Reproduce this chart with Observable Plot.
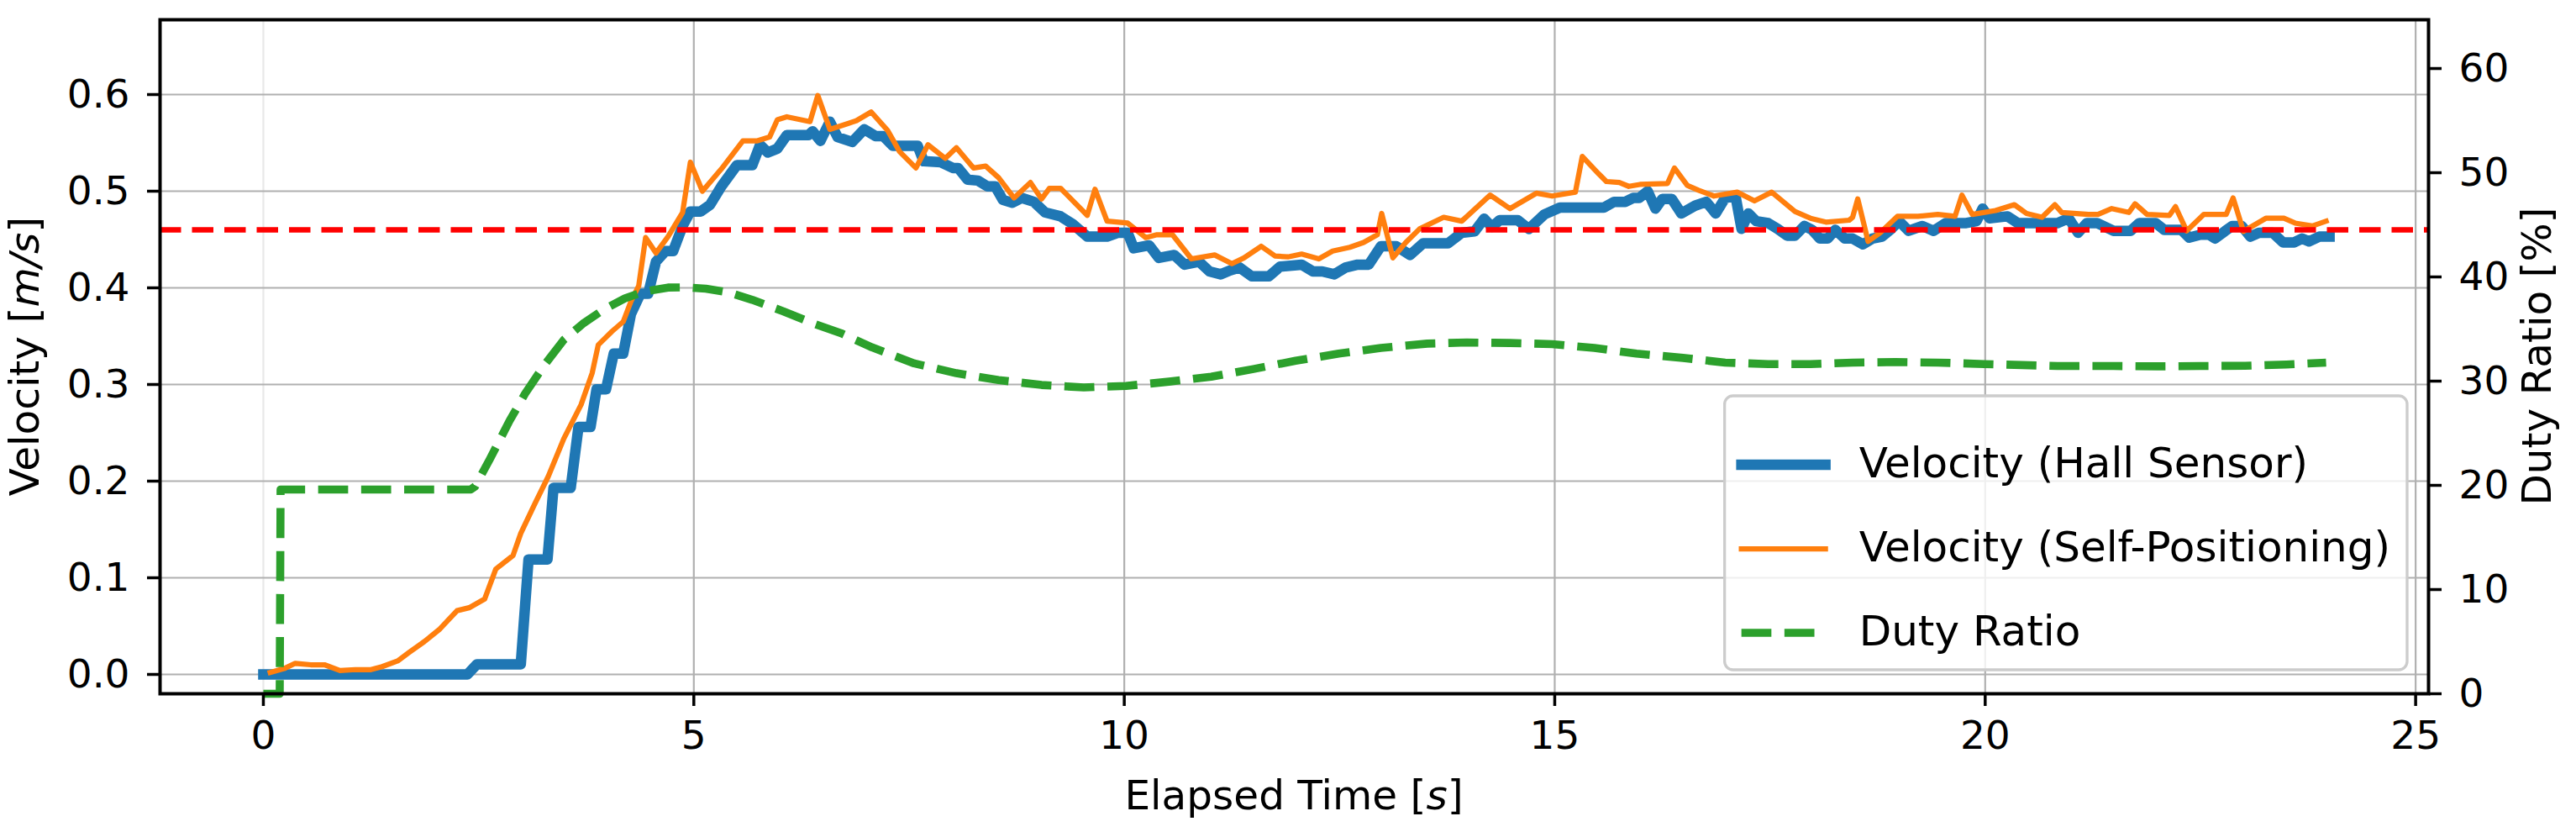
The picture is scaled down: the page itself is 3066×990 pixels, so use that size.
<!DOCTYPE html>
<html>
<head>
<meta charset="utf-8">
<script src="https://cdn.jsdelivr.net/npm/d3@7"></script>
<script src="https://cdn.jsdelivr.net/npm/@observablehq/plot@0.6"></script>
<style>
  html, body { margin: 0; padding: 0; background: #fff; }
  #chart { position: relative; width: 3066px; height: 990px; }
  #chart svg { font-family: "DejaVu Sans", sans-serif; }
</style>
</head>
<body>
<div id="chart"></div>
<script>
// ---------------- data ----------------
const hallT = [0, 2.37, 2.48, 2.99, 3.08, 3.30, 3.37, 3.57, 3.66, 3.80, 3.87, 3.98, 4.07, 4.18, 4.27, 4.38, 4.47, 4.56, 4.67, 4.76, 4.87, 4.96, 5.08, 5.19, 5.32, 5.50, 5.68, 5.77, 5.86, 5.97, 6.08, 6.33, 6.38, 6.47, 6.58, 6.67, 6.84, 6.98, 7.11, 7.20, 7.31, 7.60, 7.67, 7.87, 8.01, 8.07, 8.18, 8.30, 8.41, 8.50, 8.59, 8.70, 8.81, 8.95, 9.08, 9.26, 9.40, 9.57, 9.80, 9.93, 10.04, 10.11, 10.29, 10.40, 10.58, 10.70, 10.87, 10.99, 11.12, 11.23, 11.34, 11.48, 11.68, 11.81, 12.06, 12.19, 12.30, 12.44, 12.57, 12.71, 12.84, 12.98, 13.16, 13.32, 13.47, 13.76, 13.92, 14.07, 14.18, 14.27, 14.36, 14.57, 14.70, 14.88, 15.06, 15.57, 15.69, 15.82, 15.91, 15.98, 16.08, 16.17, 16.25, 16.36, 16.47, 16.63, 16.76, 16.87, 16.98, 17.10, 17.17, 17.25, 17.34, 17.48, 17.59, 17.70, 17.79, 17.90, 17.99, 18.08, 18.17, 18.26, 18.37, 18.46, 18.58, 18.69, 18.80, 18.91, 19.00, 19.11, 19.27, 19.40, 19.54, 19.78, 19.90, 19.97, 20.05, 20.26, 20.38, 20.84, 20.97, 21.08, 21.18, 21.30, 21.49, 21.69, 21.79, 21.98, 22.08, 22.28, 22.37, 22.50, 22.60, 22.67, 22.79, 22.87, 22.98, 23.08, 23.18, 23.34, 23.46, 23.59, 23.68, 23.76, 23.88, 24.00];
const hallV = [0, 0, 0.0105, 0.0105, 0.119, 0.119, 0.193, 0.193, 0.256, 0.256, 0.295, 0.295, 0.332, 0.332, 0.373, 0.394, 0.394, 0.427, 0.438, 0.438, 0.464, 0.479, 0.479, 0.486, 0.505, 0.527, 0.527, 0.548, 0.540, 0.544, 0.558, 0.558, 0.562, 0.552, 0.572, 0.556, 0.551, 0.564, 0.557, 0.557, 0.547, 0.547, 0.531, 0.530, 0.524, 0.524, 0.512, 0.511, 0.505, 0.505, 0.491, 0.488, 0.493, 0.489, 0.478, 0.474, 0.466, 0.453, 0.453, 0.457, 0.457, 0.441, 0.444, 0.431, 0.434, 0.424, 0.427, 0.417, 0.414, 0.418, 0.421, 0.412, 0.412, 0.422, 0.424, 0.417, 0.417, 0.414, 0.421, 0.424, 0.424, 0.443, 0.443, 0.434, 0.446, 0.446, 0.457, 0.4585, 0.4716, 0.463, 0.470, 0.470, 0.461, 0.476, 0.483, 0.483, 0.489, 0.489, 0.493, 0.493, 0.500, 0.482, 0.492, 0.492, 0.477, 0.485, 0.489, 0.477, 0.493, 0.495, 0.461, 0.477, 0.469, 0.467, 0.461, 0.454, 0.454, 0.464, 0.460, 0.451, 0.451, 0.460, 0.451, 0.451, 0.445, 0.451, 0.453, 0.461, 0.469, 0.459, 0.464, 0.459, 0.467, 0.467, 0.469, 0.482, 0.472, 0.474, 0.467, 0.467, 0.472, 0.457, 0.467, 0.467, 0.459, 0.459, 0.467, 0.467, 0.460, 0.460, 0.452, 0.455, 0.455, 0.451, 0.459, 0.464, 0.464, 0.453, 0.457, 0.457, 0.447, 0.447, 0.451, 0.448, 0.453, 0.453];

const selfT = [0.08, 0.24, 0.37, 0.55, 0.71, 0.89, 1.07, 1.25, 1.38, 1.56, 1.69, 1.87, 2.05, 2.25, 2.39, 2.57, 2.70, 2.90, 2.99, 3.15, 3.31, 3.49, 3.69, 3.82, 3.89, 4.05, 4.18, 4.27, 4.36, 4.44, 4.56, 4.70, 4.87, 4.96, 5.10, 5.32, 5.57, 5.73, 5.88, 5.97, 6.08, 6.35, 6.44, 6.58, 6.79, 6.89, 7.06, 7.25, 7.39, 7.58, 7.72, 7.92, 8.05, 8.25, 8.39, 8.54, 8.72, 8.91, 9.04, 9.13, 9.26, 9.57, 9.66, 9.80, 10.04, 10.25, 10.38, 10.56, 10.78, 11.05, 11.25, 11.39, 11.59, 11.75, 11.90, 12.06, 12.26, 12.42, 12.62, 12.78, 12.94, 12.99, 13.12, 13.27, 13.43, 13.71, 13.92, 14.25, 14.48, 14.79, 14.97, 15.24, 15.32, 15.51, 15.60, 15.75, 15.86, 15.99, 16.31, 16.39, 16.54, 16.67, 16.85, 17.12, 17.32, 17.52, 17.79, 17.97, 18.15, 18.42, 18.46, 18.52, 18.64, 18.78, 18.98, 19.22, 19.45, 19.65, 19.73, 19.85, 20.12, 20.34, 20.48, 20.66, 20.81, 20.89, 21.20, 21.31, 21.47, 21.67, 21.74, 21.88, 22.14, 22.21, 22.34, 22.54, 22.80, 22.88, 23.00, 23.26, 23.47, 23.60, 23.80, 23.96];
const selfV = [0.002, 0.006, 0.0115, 0.010, 0.010, 0.004, 0.005, 0.005, 0.008, 0.014, 0.0226, 0.034, 0.047, 0.066, 0.069, 0.078, 0.109, 0.123, 0.146, 0.176, 0.205, 0.244, 0.279, 0.312, 0.341, 0.355, 0.365, 0.386, 0.402, 0.452, 0.436, 0.453, 0.478, 0.530, 0.500, 0.523, 0.552, 0.552, 0.556, 0.574, 0.577, 0.572, 0.599, 0.564, 0.570, 0.573, 0.582, 0.563, 0.541, 0.524, 0.548, 0.534, 0.545, 0.524, 0.526, 0.514, 0.493, 0.509, 0.492, 0.503, 0.503, 0.475, 0.502, 0.469, 0.467, 0.452, 0.455, 0.455, 0.430, 0.434, 0.425, 0.431, 0.443, 0.433, 0.432, 0.435, 0.430, 0.438, 0.442, 0.447, 0.455, 0.477, 0.431, 0.447, 0.461, 0.473, 0.469, 0.496, 0.482, 0.498, 0.495, 0.499, 0.536, 0.518, 0.510, 0.509, 0.505, 0.507, 0.508, 0.524, 0.506, 0.501, 0.495, 0.499, 0.490, 0.499, 0.479, 0.472, 0.468, 0.470, 0.473, 0.492, 0.448, 0.457, 0.474, 0.474, 0.476, 0.474, 0.496, 0.476, 0.480, 0.486, 0.477, 0.473, 0.486, 0.478, 0.476, 0.476, 0.482, 0.478, 0.487, 0.476, 0.475, 0.484, 0.459, 0.476, 0.476, 0.493, 0.4585, 0.472, 0.472, 0.467, 0.464, 0.469];

const dutyT = [0, 0.19, 0.20, 2.41, 2.46, 2.63, 2.86, 3.04, 3.26, 3.49, 3.71, 3.94, 4.20, 4.43, 4.70, 4.92, 5.14, 5.41, 5.68, 6.04, 6.40, 6.71, 7.07, 7.56, 8.05, 8.54, 9.04, 9.53, 10.02, 10.52, 11.01, 11.50, 11.99, 12.49, 12.98, 13.52, 13.98, 14.48, 14.97, 15.46, 15.95, 16.49, 16.98, 17.48, 17.97, 18.46, 18.96, 19.45, 19.99, 20.43, 20.84, 21.49, 22.00, 22.50, 23.02, 23.50, 23.96];
const dutyD = [0, 0, 19.6, 19.6, 19.9, 22.5, 26.2, 28.8, 31.5, 33.96, 35.5, 36.8, 37.95, 38.6, 38.98, 39.0, 38.87, 38.5, 37.8, 36.7, 35.5, 34.6, 33.24, 31.7, 30.76, 30.1, 29.63, 29.4, 29.54, 29.95, 30.43, 31.16, 31.96, 32.64, 33.18, 33.6, 33.71, 33.66, 33.55, 33.18, 32.64, 32.23, 31.78, 31.64, 31.64, 31.78, 31.83, 31.78, 31.64, 31.54, 31.45, 31.45, 31.42, 31.45, 31.47, 31.6, 31.78];

const targetVelocity = [0.46];

const xTicks = [0, 5, 10, 15, 20, 25];
const velocityTicks = [0.0, 0.1, 0.2, 0.3, 0.4, 0.5, 0.6];
const dutyTicks = [0, 10, 20, 30, 40, 50, 60];

const seriesNames = ["Velocity (Hall Sensor)", "Velocity (Self-Positioning)", "Duty Ratio"];
const seriesColors = ["#1f77b4", "#ff7f0e", "#2ca02c"];

// ---------------- tables ----------------
const hall = hallT.map((t, i) => ({t, v: hallV[i]}));
const selfPos = selfT.map((t, i) => ({t, v: selfV[i]}));
const duty = dutyT.map((t, i) => ({t, d: dutyD[i]}));

// ---------------- layout ----------------
const W = 3066, H = 990;
const mL = 190, mR = 176, mT = 23, mB = 165;
const xDomain = [-1.2, 25.15];
const vDomain = [-0.020, 0.6774];
const dDomain = [0, 64.68];
const dutyToV = d3.scaleLinear().domain(dDomain).range(vDomain);

const TICK_FS = 47, LABEL_FS = 48.5, LEG_FS = 50;
const tickStyle = {tickSize: 15, strokeWidth: 3.5, fontSize: TICK_FS, label: null, stroke: "black", color: "black"};

const plot = Plot.plot({
  width: W, height: H,
  marginLeft: mL, marginRight: mR, marginTop: mT, marginBottom: mB,
  style: {fontFamily: "DejaVu Sans", fontSize: TICK_FS + "px", color: "black", background: "white"},
  x: {domain: xDomain, label: null},
  y: {domain: vDomain, label: null},
  marks: [
    Plot.gridX(xTicks, {stroke: t => t === 0 ? "#e8e8e8" : "#b0b0b0", strokeOpacity: 1, strokeWidth: 2.2}),
    Plot.gridY(velocityTicks, {stroke: "#b0b0b0", strokeOpacity: 1, strokeWidth: 2.2}),
    Plot.line(hall, {x: "t", y: "v", stroke: seriesColors[0], strokeWidth: 12.5, strokeLinejoin: "round", strokeLinecap: "square"}),
    Plot.line(selfPos, {x: "t", y: "v", stroke: seriesColors[1], strokeWidth: 6.25, strokeLinejoin: "round", strokeLinecap: "square"}),
    Plot.ruleY(targetVelocity, {stroke: "#ff0000", strokeWidth: 6.5, strokeDasharray: "25.5,13"}),
    Plot.line(duty, {x: "t", y: d => dutyToV(d.d), stroke: seriesColors[2], strokeWidth: 9.6, strokeDasharray: "35.7,15.5", strokeLinejoin: "round", strokeLinecap: "butt"}),
    Plot.axisX(xTicks, {...tickStyle, anchor: "bottom", tickPadding: 17}),
    Plot.axisY(velocityTicks, {...tickStyle, anchor: "left", tickPadding: 21, tickFormat: d3.format(".1f")}),
    Plot.axisY(dutyTicks.map(dutyToV), {...tickStyle, anchor: "right", tickPadding: 21,
      tickFormat: v => String(Math.round(dutyToV.invert(v)))}),
    Plot.frame({stroke: "black", strokeWidth: 4})
  ]
});

document.getElementById("chart").appendChild(plot);

// ---------------- axis titles (with mathtext-like italics) ----------------
const svg = d3.select(plot);
const fx0 = mL, fx1 = W - mR, fy0 = mT, fy1 = H - mB;
const cx = (fx0 + fx1) / 2, cy = (fy0 + fy1) / 2;

function richLabel(parts, x, y, rotate) {
  const t = svg.append("text")
    .attr("font-family", "DejaVu Sans")
    .attr("font-size", LABEL_FS)
    .attr("fill", "black")
    .attr("text-anchor", "middle")
    .attr("transform", `translate(${x},${y})` + (rotate ? ` rotate(${rotate})` : ""));
  parts.forEach(([s, it]) => t.append("tspan").attr("font-style", it ? "italic" : "normal").text(s));
  return t;
}
richLabel([["Elapsed Time [", false], ["s", true], ["]", false]], cx, 963, 0);
richLabel([["Velocity [", false], ["m/s", true], ["]", false]], 46, cy, -90);
richLabel([["Duty Ratio [%]", false]], 3036, cy, -90);

// ---------------- legend ----------------
const F = LEG_FS;
const lg = svg.append("g").attr("font-family", "DejaVu Sans").attr("font-size", F).attr("text-anchor", "start");
const box = lg.append("rect");
const styles = [
  {w: 12.5, dash: null, cap: "square"},
  {w: 6.25, dash: null, cap: "square"},
  {w: 9.6, dash: "35.7,15.5", cap: "butt"}
];
const texts = seriesNames.map(n => lg.append("text").attr("fill", "black").attr("text-anchor", "start").text(n));
const maxW = d3.max(texts, t => t.node().getComputedTextLength());
const pad = 0.4 * F, handleL = 2 * F, handlePad = 0.8 * F;
const rowStep = 100, padTop = 82, padBottom = 44;
const boxW = 2 * pad + handleL + handlePad + maxW;
const boxH = padTop + 2 * rowStep + padBottom;
const bx1 = fx1 - 0.5 * F, by1 = fy1 - 28;
const bx0 = bx1 - boxW, by0 = by1 - boxH;
box.attr("x", bx0).attr("y", by0).attr("width", boxW).attr("height", boxH)
  .attr("rx", 0.2 * F).attr("fill", "white").attr("fill-opacity", 0.8)
  .attr("stroke", "#cccccc").attr("stroke-width", 3.3);
seriesNames.forEach((n, i) => {
  const yc = by0 + padTop + i * rowStep;
  const ln = lg.append("line")
    .attr("x1", bx0 + pad).attr("x2", bx0 + pad + handleL)
    .attr("y1", yc).attr("y2", yc)
    .attr("stroke", seriesColors[i]).attr("stroke-width", styles[i].w)
    .attr("stroke-linecap", styles[i].cap);
  if (styles[i].dash) ln.attr("stroke-dasharray", styles[i].dash);
  texts[i].attr("x", bx0 + pad + handleL + handlePad).attr("y", yc + 0.3 * F);
});
</script>
</body>
</html>
